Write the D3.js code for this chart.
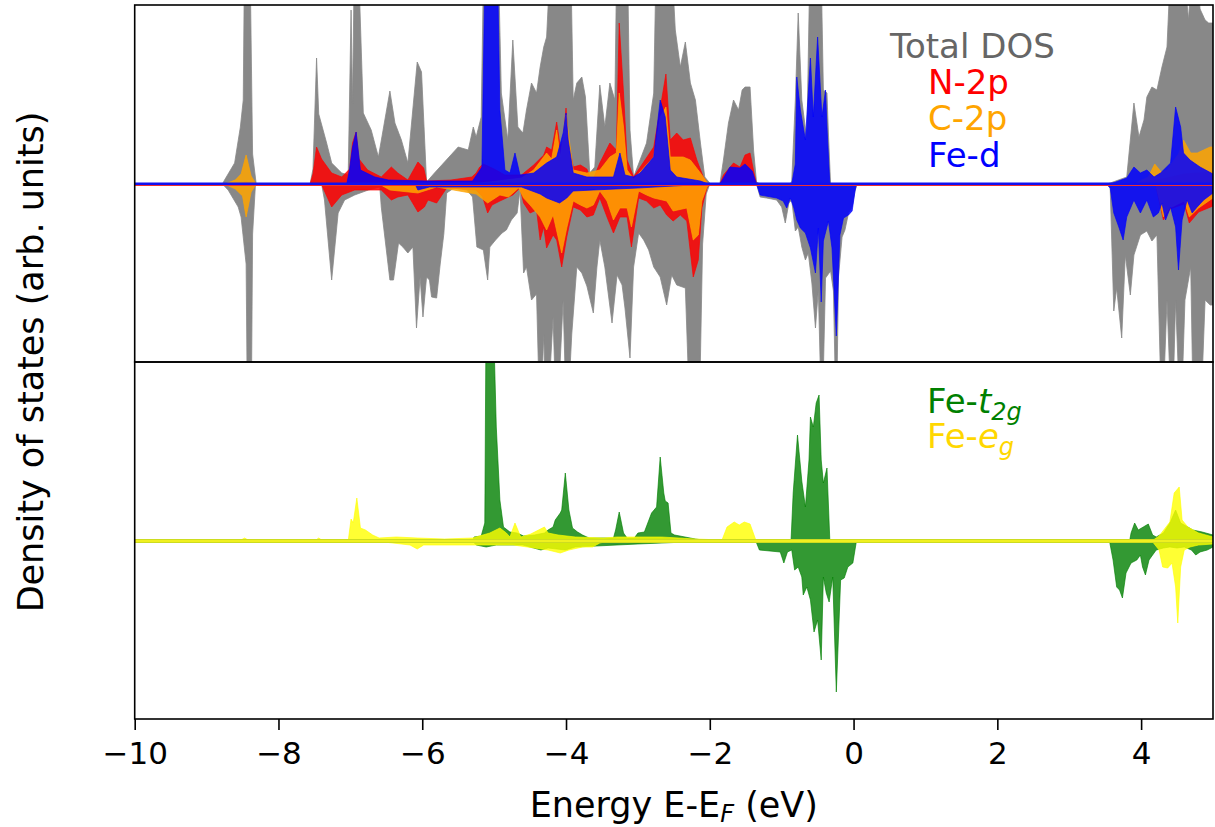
<!DOCTYPE html>
<html><head><meta charset="utf-8">
<script src="https://cdn.jsdelivr.net/npm/d3@7"></script>
<style>body{margin:0;background:#fff;} text{font-family:"DejaVu Sans",sans-serif;}</style>
</head><body><svg id="c" width="1215" height="827"></svg>
<script>
// ---------- data (energy eV, DOS arb. units; spin up positive, spin down negative) ----------
const xTicks = [-10, -8, -6, -4, -2, 0, 2, 4];
const topLegend = ["Total DOS", "N-2p", "C-2p", "Fe-d"];

const totalUp = [[-10,0],[-8.78,0],[-8.75,0.4],[-8.61,2.1],[-8.53,5.7],[-8.49,8.4],[-8.47,25],[-8.40,25],[-8.36,3],[-8.31,0],
[-7.56,0],[-7.52,1.5],[-7.47,12.6],[-7.44,7],[-7.33,4.1],[-7.26,2.1],[-7.12,1.1],[-7.03,0.9],[-6.99,17.4],[-6.97,8],[-6.94,25],[-6.90,25],
[-6.82,7.1],[-6.71,5.4],[-6.61,2.7],[-6.45,9.3],[-6.38,6.1],[-6.29,4.4],[-6.20,2.1],[-6.07,12.2],[-6.01,11.2],[-5.94,0.2],[-5.83,1.1],
[-5.50,3.7],[-5.36,3.4],[-5.29,5.7],[-5.25,4.7],[-5.18,6.7],[-5.14,25],[-4.95,25],[-4.90,9.1],[-4.81,4.4],[-4.74,14.4],[-4.67,5.7],
[-4.60,5.1],[-4.55,7.4],[-4.48,10.1],[-4.41,9.1],[-4.36,11.7],[-4.31,13.7],[-4.27,14.7],[-4.20,25],[-3.94,25],[-3.90,8.4],[-3.85,10.1],
[-3.78,10.7],[-3.73,8.7],[-3.67,1.1],[-3.60,1.7],[-3.53,9.9],[-3.46,5.7],[-3.39,10.1],[-3.32,8.4],[-3.29,25],[-3.15,25],[-3.11,5.4],
[-3.06,0.7],[-2.97,2.4],[-2.88,4.1],[-2.78,9.1],[-2.74,25],[-2.55,25],[-2.48,15.4],[-2.41,11.7],[-2.34,14.2],[-2.27,10.1],[-2.20,8.4],
[-2.13,4.1],[-2.07,0.7],[-1.99,0],[-1.86,0],[-1.81,2.4],[-1.74,6.1],[-1.67,8.4],[-1.60,7.4],[-1.55,9.4],[-1.51,9.7],[-1.44,9.7],[-1.39,3.3],
[-1.35,0.2],[-1.30,0],[-0.88,0],[-0.86,0.3],[-0.81,8.4],[-0.77,17.1],[-0.72,8.4],[-0.65,4.4],[-0.60,25],[-0.46,25],[-0.42,9.4],[-0.37,9.1],
[-0.35,5.1],[-0.32,0],[3.52,0],[3.57,0.1],[3.80,0.7],[3.90,8.1],[3.97,4.7],[4.04,6.4],[4.08,8.7],[4.15,9.7],[4.22,9.4],[4.29,11.7],
[4.36,13.7],[4.43,25],[4.55,25],[4.66,16.4],[4.73,25],[4.82,17.5],[4.89,16.4],[4.94,16.1],[5.0,16.1]];

const totalDn = [[-10,0],[-8.78,0],[-8.70,-0.6],[-8.56,-2.3],[-8.52,-3.3],[-8.45,-8],[-8.43,-25],[-8.38,-25],[-8.36,-5],[-8.32,0],
[-7.40,0],[-7.36,-1.6],[-7.26,-9.6],[-7.17,-2.9],[-7.08,-1.6],[-6.94,-1.1],[-6.75,-0.6],[-6.59,-0.3],[-6.57,-2.3],[-6.45,-9.6],[-6.40,-9.6],
[-6.33,-5.9],[-6.27,-6.3],[-6.20,-6.9],[-6.13,-6.3],[-6.08,-14.4],[-6.03,-9.3],[-5.99,-13.3],[-5.94,-9.3],[-5.90,-9.6],[-5.87,-11.3],
[-5.80,-11.4],[-5.75,-8],[-5.70,-5],[-5.66,-0.9],[-5.56,-0.4],[-5.38,-0.6],[-5.30,-1.3],[-5.24,-6.3],[-5.15,-6.6],[-5.09,-9.6],[-5.06,-6.3],
[-4.98,-5.6],[-4.89,-4.9],[-4.83,-4.6],[-4.76,-3.6],[-4.68,-2.9],[-4.64,-0.6],[-4.59,-8.9],[-4.55,-8.3],[-4.48,-11.6],[-4.41,-11],
[-4.36,-25],[-4.31,-15],[-4.27,-25],[-4.18,-13.3],[-4.13,-25],[-4.04,-11.6],[-3.99,-25],[-3.92,-15],[-3.85,-8.3],[-3.78,-8.9],[-3.71,-10.2],
[-3.62,-12.9],[-3.57,-8.3],[-3.53,-5.6],[-3.46,-8.3],[-3.36,-13.9],[-3.29,-9.1],[-3.22,-10.1],[-3.18,-12.4],[-3.11,-17.4],[-3.06,-8.3],
[-2.99,-4.9],[-2.92,-5.6],[-2.85,-6.6],[-2.78,-8.3],[-2.69,-9.3],[-2.60,-12.1],[-2.53,-9.1],[-2.46,-10.1],[-2.34,-10.4],[-2.27,-25],
[-2.15,-25],[-2.10,-6],[-2.05,-1],[-2.0,0],[-1.35,0],[-1.30,-1.3],[-1.21,-1.4],[-1.07,-1.6],[-1.00,-2.3],[-0.95,-3.9],[-0.90,-1.9],
[-0.86,-1.6],[-0.81,-4.7],[-0.77,-4.3],[-0.72,-6.3],[-0.67,-7.6],[-0.63,-6.9],[-0.58,-9.9],[-0.53,-14.4],[-0.49,-10.6],[-0.44,-25],
[-0.39,-9.4],[-0.32,-8.7],[-0.28,-10.7],[-0.24,-25],[-0.21,-9.3],[-0.16,-5.3],[-0.12,-4.6],[-0.07,-2.9],[-0.02,-2.3],[0.02,-0.7],[0.05,0],
[3.52,0],[3.57,-0.4],[3.62,-12.7],[3.66,-10.4],[3.73,-15.4],[3.78,-7.1],[3.85,-11.1],[3.90,-7.1],[3.99,-5.1],[4.08,-4.7],[4.15,-5.7],
[4.22,-5.1],[4.29,-25],[4.36,-11.6],[4.43,-25],[4.48,-11.6],[4.55,-25],[4.61,-11.6],[4.69,-8.3],[4.73,-25],[4.82,-25],[4.89,-11.6],
[4.96,-12.1],[5.0,-12.1]];

const n2pUp = [[-10,0],[-8.6,0],[-8.45,0.2],[-8.3,0],[-7.56,0],[-7.52,1.0],[-7.47,3.7],[-7.40,2.5],[-7.26,1.1],[-7.12,0.7],[-7.01,1.5],
[-6.97,4.1],[-6.92,5.2],[-6.88,2.5],[-6.76,1.4],[-6.57,0.7],[-6.43,1.7],[-6.34,1.1],[-6.20,0.4],[-6.06,2.2],[-5.98,1.6],[-5.94,0.3],
[-5.60,0.4],[-5.31,0.7],[-5.25,1.1],[-5.20,1.7],[-5.15,2.0],[-5.0,1.5],[-4.85,0.9],[-4.62,0.9],[-4.45,1.9],[-4.31,2.9],[-4.27,3.7],
[-4.20,3.4],[-4.13,6.2],[-4.08,3.7],[-4.04,4.4],[-4.00,7.6],[-3.97,4.4],[-3.90,1.7],[-3.80,1.9],[-3.71,1.5],[-3.64,0.2],[-3.53,2.1],
[-3.39,4.1],[-3.30,3.4],[-3.26,16.1],[-3.20,9.1],[-3.15,2.4],[-3.06,0.7],[-2.78,3.7],[-2.67,8.4],[-2.61,11.0],[-2.55,4.4],[-2.46,5.1],
[-2.37,4.4],[-2.27,4.6],[-2.18,2.4],[-2.09,0.7],[-2.02,0],[-1.86,0],[-1.81,0.9],[-1.67,2.1],[-1.58,1.7],[-1.51,2.9],[-1.44,3.1],
[-1.39,1.3],[-1.35,0],[3.8,0],[4.3,0.5],[4.6,1.0],[5.0,1.2]];

const n2pDn = [[-10,0],[-7.40,0],[-7.38,-0.4],[-7.26,-2.3],[-7.12,-1.1],[-6.94,-0.6],[-6.57,-0.6],[-6.43,-1.6],[-6.34,-1.3],[-6.20,-1.1],
[-6.06,-2.8],[-5.97,-2.3],[-5.92,-1.6],[-5.80,-1.9],[-5.66,-0.4],[-5.25,-0.6],[-5.16,-1.3],[-5.09,-2.9],[-5.03,-2.1],[-4.92,-1.7],
[-4.74,-1.1],[-4.64,-0.4],[-4.59,-1.9],[-4.50,-2.9],[-4.41,-2.6],[-4.36,-5.6],[-4.31,-4.3],[-4.27,-6.4],[-4.18,-5.1],[-4.13,-5.6],
[-4.06,-8.3],[-3.99,-5.3],[-3.90,-2.3],[-3.80,-2.6],[-3.71,-3.3],[-3.62,-3.1],[-3.53,-1.4],[-3.43,-3.3],[-3.34,-4.9],[-3.25,-3.3],
[-3.15,-3.3],[-3.09,-6.3],[-2.99,-1.4],[-2.88,-1.7],[-2.78,-2.4],[-2.69,-2.1],[-2.60,-3.1],[-2.51,-3.7],[-2.41,-3.1],[-2.32,-3.7],
[-2.23,-9.3],[-2.16,-7.6],[-2.11,-2.4],[-2.04,-0.4],[-2.0,0],[4.2,0],[4.31,-3.6],[4.4,-2.5],[4.6,-2.0],[4.67,-3.9],[4.8,-2.8],[5.0,-2.2]];

const c2pUp = [[-10,0],[-8.75,0],[-8.6,0.4],[-8.52,1.0],[-8.45,2.9],[-8.38,0.8],[-8.31,0],[-5.3,0],[-4.62,0.6],[-4.45,1.4],[-4.27,3.1],
[-4.20,2.5],[-4.13,5.4],[-4.08,2.7],[-4.00,6.9],[-3.90,1.4],[-3.71,1.1],[-3.53,1.4],[-3.39,2.7],[-3.30,3.1],[-3.26,9.1],[-3.20,5.7],
[-3.15,1.4],[-3.06,0.5],[-2.78,2.7],[-2.69,6.7],[-2.61,7.7],[-2.55,2.7],[-2.37,2.7],[-2.27,2.4],[-2.13,1.1],[-2.02,0],[3.9,0],[4.10,0.7],
[4.19,2.0],[4.28,1.2],[4.36,1.4],[4.52,3.0],[4.59,4.4],[4.69,3.1],[4.78,3.1],[4.87,3.4],[4.96,3.7],[5.0,3.7]];

const c2pDn = [[-10,0],[-8.75,0],[-8.6,-0.5],[-8.5,-1.2],[-8.45,-3.3],[-8.38,-0.8],[-8.31,0],[-6.6,0],[-6.45,-0.6],[-6.06,-0.9],[-5.8,-0.3],
[-5.25,-1.0],[-5.09,-1.9],[-4.92,-1.1],[-4.80,-1.3],[-4.66,-0.4],[-4.59,-1.4],[-4.50,-2.1],[-4.36,-3.3],[-4.27,-4.6],[-4.18,-3.1],
[-4.06,-6.9],[-3.99,-4.4],[-3.90,-1.7],[-3.80,-2.1],[-3.71,-2.4],[-3.62,-2.1],[-3.53,-0.7],[-3.43,-1.7],[-3.34,-3.6],[-3.25,-2.4],
[-3.15,-2.4],[-3.09,-4.3],[-2.99,-0.7],[-2.88,-1.1],[-2.78,-1.4],[-2.60,-1.7],[-2.51,-2.7],[-2.32,-2.4],[-2.23,-5.6],[-2.16,-5.1],
[-2.11,-1.7],[-2.04,-0.3],[-2.0,0],[4.2,0],[4.31,-3.3],[4.40,-2.4],[4.6,-1.7],[4.67,-3.3],[4.8,-2.4],[5.0,-1.4]];

const fedUp = [[-10,0],[-7.05,0],[-7.01,1.5],[-6.97,3.7],[-6.92,5.2],[-6.86,1.4],[-6.66,0.7],[-6.47,0.4],[-5.94,0.3],[-5.3,0.3],
[-5.17,1.7],[-5.12,25],[-4.96,25],[-4.92,7.4],[-4.85,1.4],[-4.78,1.1],[-4.71,3.1],[-4.64,0.9],[-4.45,1.1],[-4.27,2.1],[-4.13,2.7],
[-4.04,5.1],[-4.00,7.1],[-3.97,4.4],[-3.90,1.1],[-3.71,0.7],[-3.34,0.7],[-3.25,3.1],[-3.18,0.9],[-3.06,0.7],[-2.97,1.1],[-2.78,2.7],
[-2.69,8.4],[-2.62,6.7],[-2.55,1.4],[-2.46,0.7],[-2.13,0.3],[-2.02,0],[-1.86,0],[-1.81,0.6],[-1.72,1.7],[-1.58,1.6],[-1.51,2.0],
[-1.41,1.3],[-1.35,0],[-0.86,0],[-0.81,2],[-0.79,10.7],[-0.74,7.4],[-0.67,4.4],[-0.60,12.6],[-0.56,6.7],[-0.50,14.7],[-0.44,6.7],
[-0.39,9.4],[-0.37,5.7],[-0.33,0],[3.57,0],[3.80,0.6],[3.90,1.7],[3.99,1.1],[4.08,1.4],[4.18,0.7],[4.27,1.1],[4.41,2.1],[4.48,7.7],
[4.55,5.7],[4.59,3.1],[4.68,2.4],[4.82,1.7],[5.0,1.0]];

const fedDn = [[-10,0],[-6.1,0],[-6.06,-0.6],[-5.9,-0.3],[-4.62,-0.3],[-4.36,-1.0],[-4.27,-1.4],[-4.09,-1.9],[-3.99,-1.4],[-3.90,-0.7],
[-3.62,-0.6],[-3.0,-0.4],[-2.0,0],[-1.35,0],[-1.30,-1.1],[-1.07,-1.4],[-0.98,-1.7],[-0.93,-2.4],[-0.88,-1.4],[-0.83,-2.4],[-0.79,-3.6],
[-0.74,-4.4],[-0.67,-4.9],[-0.60,-6.4],[-0.53,-8.9],[-0.49,-4.4],[-0.45,-11.8],[-0.42,-5.7],[-0.35,-3.7],[-0.30,-6.4],[-0.24,-15.2],
[-0.19,-5.1],[-0.14,-3.4],[-0.07,-3.1],[-0.02,-2.7],[0.02,-0.7],[0.04,0],[3.52,0],[3.57,-0.4],[3.62,-2.9],[3.69,-4.3],[3.75,-5.6],
[3.80,-3.3],[3.90,-1.6],[3.99,-2.9],[4.08,-1.6],[4.17,-3.3],[4.24,-2.9],[4.29,-1.9],[4.34,-3.6],[4.41,-2.3],[4.48,-4.3],[4.52,-8.6],
[4.57,-3.6],[4.64,-1.6],[4.71,-2.9],[4.78,-2.3],[4.87,-1.6],[5.0,-0.9]];

const t2gUp = [[-10,0],[-5.30,0],[-5.28,0.4],[-5.18,0.5],[-5.13,1.8],[-5.11,25],[-5.02,25],[-4.97,11.4],[-4.92,4.1],[-4.87,1.4],
[-4.78,0.9],[-4.68,0.8],[-4.59,0.5],[-4.44,0.6],[-4.30,0.8],[-4.25,1.1],[-4.18,1.4],[-4.15,2.1],[-4.08,2.8],[-4.06,3.1],[-4.01,6.8],
[-3.96,3.1],[-3.91,1.3],[-3.84,0.9],[-3.77,0.6],[-3.68,0.3],[-3.34,0.3],[-3.31,1.1],[-3.26,2.9],[-3.20,0.8],[-3.15,0.3],[-3.05,0.3],
[-3.00,0.8],[-2.91,0.9],[-2.81,2.8],[-2.74,3.4],[-2.69,8.4],[-2.64,4.8],[-2.62,4.0],[-2.58,3.8],[-2.54,0.8],[-2.49,0.6],[-2.2,0.2],
[-2.0,0],[-0.87,0],[-0.84,4.8],[-0.78,10.6],[-0.72,6.0],[-0.67,3.4],[-0.62,8.1],[-0.60,12.4],[-0.56,11.4],[-0.52,13.8],[-0.48,14.6],
[-0.45,8.1],[-0.42,5.8],[-0.37,7.3],[-0.33,0],[3.84,0],[3.86,0.8],[3.91,1.8],[3.96,1.1],[4.03,1.4],[4.10,1.7],[4.16,0.6],[4.21,0.4],
[4.31,0.8],[4.40,1.8],[4.48,3.1],[4.55,1.8],[4.65,1.4],[4.72,1.1],[4.85,0.9],[5.0,0.6]];

const t2gDn = [[-10,0],[-5.3,0],[-5.25,-0.4],[-5.11,-0.6],[-4.97,-0.4],[-4.60,-0.4],[-4.35,-0.9],[-4.25,-0.7],[-4.01,-0.9],[-3.87,-0.6],
[-3.0,-0.3],[-2.0,0],[-1.36,0],[-1.31,-0.9],[-1.02,-1.1],[-0.97,-2.2],[-0.92,-1.1],[-0.86,-0.9],[-0.82,-2.9],[-0.77,-2.6],[-0.72,-3.6],
[-0.70,-5.4],[-0.65,-4.6],[-0.60,-5.9],[-0.55,-9.1],[-0.50,-7.9],[-0.45,-11.9],[-0.42,-3.6],[-0.38,-5.2],[-0.34,-6.1],[-0.29,-3.6],
[-0.24,-15.1],[-0.18,-3.9],[-0.13,-3.7],[-0.08,-2.6],[-0.01,-2.2],[0.04,0],[3.56,0],[3.61,-1.9],[3.66,-4.6],[3.70,-4.9],[3.74,-5.7],
[3.79,-3.2],[3.86,-2.2],[3.94,-1.9],[3.99,-1.4],[4.02,-2.6],[4.06,-3.4],[4.11,-1.9],[4.21,-0.9],[4.31,-0.7],[4.40,-0.6],[4.50,-0.7],
[4.60,-0.6],[4.70,-0.9],[4.76,-1.4],[4.82,-1.1],[4.92,-0.9],[5.0,-0.6]];

const egUp = [[-10,0],[-8.55,0],[-8.47,0.3],[-8.40,0],[-7.50,0],[-7.44,0.3],[-7.38,0],[-7.03,0],[-6.99,2.2],[-6.96,1.8],[-6.91,4.3],
[-6.86,1.3],[-6.79,1.1],[-6.69,0.6],[-6.60,0.3],[-6.36,0.4],[-6.07,0.3],[-5.69,0.2],[-5.30,0.3],[-5.06,0.8],[-4.92,1.3],[-4.83,0.8],
[-4.78,0.4],[-4.71,1.8],[-4.63,0.4],[-4.49,0.7],[-4.30,1.4],[-4.25,0.8],[-4.11,0.6],[-3.87,0.4],[-3.48,0.3],[-3.29,0.4],[-2.67,0.4],
[-2.2,0.2],[-1.83,0.1],[-1.76,1.4],[-1.66,1.9],[-1.59,1.6],[-1.52,1.9],[-1.44,1.7],[-1.36,0.1],[-1.2,0],[4.15,0],[4.25,0.5],[4.40,1.9],
[4.46,4.8],[4.53,5.4],[4.57,2.1],[4.65,1.4],[4.80,0.8],[5.0,0.4]];

const egDn = [[-10,0],[-6.65,0],[-6.17,-0.4],[-6.07,-0.8],[-5.98,-0.4],[-5.78,-0.4],[-5.2,-0.4],[-4.73,-0.4],[-4.25,-0.9],[-4.08,-1.2],
[-3.96,-0.9],[-3.77,-0.6],[-3.63,-0.6],[-3.53,-0.2],[-3.4,0],[4.15,0],[4.25,-0.9],[4.30,-2.6],[4.37,-2.7],[4.43,-2.2],[4.48,-4.6],
[4.51,-8.2],[4.55,-2.6],[4.60,-0.9],[4.68,-0.6],[4.80,-0.4],[5.0,-0.3]];

// ---------- drawing ----------
const svg = d3.select('#c');
const L = 134.7, R = 1213;
const x = d3.scaleLinear().domain([-10, 5]).range([L, R]);
const yDom = [-17.8, 17.9];
const yTop = d3.scaleLinear().domain(yDom).range([362, 5]);
const yBot = d3.scaleLinear().domain(yDom).range([719, 362]);

const defs = svg.append('defs');
[[5,362,'clipTop'],[362,719,'clipBot']].forEach(([t,b,id])=>{
  defs.append('clipPath').attr('id',id).append('rect').attr('x',L).attr('y',t).attr('width',R-L).attr('height',b-t);
});

function drawArea(g, y, data, color, op){
  const area = d3.area().x(d=>x(d[0])).y0(y(0)).y1(d=>y(d[1]));
  g.append('path').attr('d', area(data)).attr('fill', color).attr('fill-opacity', op)
   .attr('stroke', color).attr('stroke-opacity', op).attr('stroke-width', 0.8);
}

const gTop = svg.append('g').attr('clip-path','url(#clipTop)');
drawArea(gTop, yTop, totalUp, '#888888', 1);
drawArea(gTop, yTop, totalDn, '#888888', 1);
drawArea(gTop, yTop, n2pUp, '#ff0000', 0.85);
drawArea(gTop, yTop, n2pDn, '#ff0000', 0.85);
drawArea(gTop, yTop, c2pUp, '#ffa500', 0.85);
drawArea(gTop, yTop, c2pDn, '#ffa500', 0.85);
drawArea(gTop, yTop, fedUp, '#0000ff', 0.85);
drawArea(gTop, yTop, fedDn, '#0000ff', 0.85);
gTop.append('line').attr('x1',L).attr('x2',R).attr('y1',yTop(0)+0.8).attr('y2',yTop(0)+0.8).attr('stroke','#ee3030').attr('stroke-width',2.5);
gTop.append('line').attr('x1',L).attr('x2',R).attr('y1',yTop(0)-0.2).attr('y2',yTop(0)-0.2).attr('stroke','#1010f0').attr('stroke-width',2.6);

const gBot = svg.append('g').attr('clip-path','url(#clipBot)');
drawArea(gBot, yBot, t2gUp, '#008000', 0.8);
drawArea(gBot, yBot, t2gDn, '#008000', 0.8);
drawArea(gBot, yBot, egUp, '#ffff00', 0.8);
drawArea(gBot, yBot, egDn, '#ffff00', 0.8);
gBot.append('line').attr('x1',L).attr('x2',R).attr('y1',yBot(0)).attr('y2',yBot(0)).attr('stroke','#66a020').attr('stroke-width',4);
gBot.append('line').attr('x1',L).attr('x2',R).attr('y1',yBot(0)).attr('y2',yBot(0)).attr('stroke','#f0f020').attr('stroke-width',3.4);

// frames
[[5,362],[362,719]].forEach(([t,b])=>{
  svg.append('rect').attr('x',L).attr('y',t).attr('width',R-L).attr('height',b-t)
    .attr('fill','none').attr('stroke','#000').attr('stroke-width',1.6);
});

// x axis
const xAxis = d3.axisBottom(x).tickValues(xTicks).tickSize(11).tickPadding(12)
  .tickFormat(d => d < 0 ? '\u2212' + Math.abs(d) : String(d));
const ga = svg.append('g').attr('transform','translate(0,719)').call(xAxis);
ga.select('.domain').remove();
ga.selectAll('line').attr('stroke','#000').attr('stroke-width',1.6);
ga.selectAll('text').attr('font-size',31).attr('fill','#000').attr('font-family','DejaVu Sans');

// axis labels
const xl = svg.append('text').attr('x', (L+R)/2).attr('y', 817).attr('text-anchor','middle')
  .attr('font-size',35).attr('fill','#000');
xl.append('tspan').text('Energy E-E');
xl.append('tspan').attr('font-size',24).attr('font-style','italic').attr('dy',5).text('F');
xl.append('tspan').attr('dy',-5).text(' (eV)');

svg.append('text').attr('transform','translate(43,362) rotate(-90)').attr('text-anchor','middle')
  .attr('font-size',35).attr('fill','#000').text('Density of states (arb. units)');

// legends
const legColors = ['#666666','#ff0000','#ffa500','#0000ff'];
const legX = [890, 928, 928, 928];
const legY = [58, 94, 130, 167];
topLegend.forEach((t,i)=>{
  svg.append('text').attr('x',legX[i]).attr('y',legY[i]).attr('font-size',34).attr('fill',legColors[i]).text(t);
});
const l1 = svg.append('text').attr('x',927).attr('y',413).attr('font-size',34).attr('fill','#008000');
l1.append('tspan').text('Fe-');
l1.append('tspan').attr('font-style','italic').text('t');
l1.append('tspan').attr('font-size',24).attr('font-style','italic').attr('dy',7).text('2g');
const l2 = svg.append('text').attr('x',927).attr('y',448).attr('font-size',34).attr('fill','#ffd700');
l2.append('tspan').text('Fe-');
l2.append('tspan').attr('font-style','italic').text('e');
l2.append('tspan').attr('font-size',24).attr('font-style','italic').attr('dy',7).text('g');
</script></body></html>
